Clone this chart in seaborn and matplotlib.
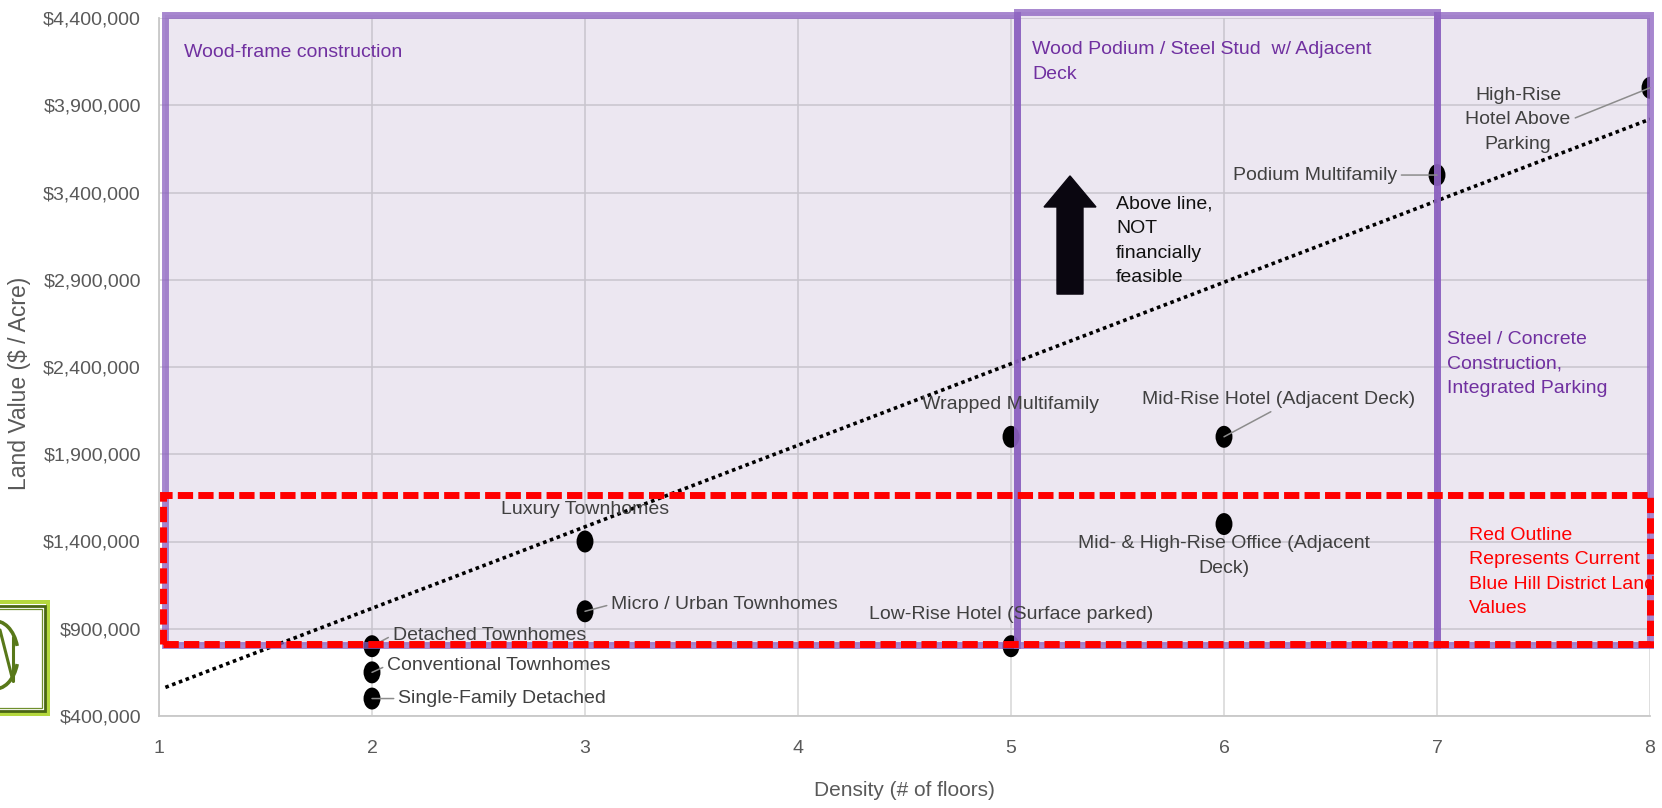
import matplotlib
matplotlib.use("Agg")
import matplotlib.pyplot as plt
from matplotlib.patches import Rectangle, Arc
from matplotlib.path import Path
from matplotlib.markers import MarkerStyle
from matplotlib.ticker import FuncFormatter, FixedLocator
import matplotlib.transforms as mtransforms
import pandas as pd
import seaborn as sns

# ---------------------------------------------------------------------------
# Data: development product types, density (floors) vs. land value ($/acre)
# ---------------------------------------------------------------------------
products = [
    "Single-Family Detached",
    "Conventional Townhomes",
    "Detached Townhomes",
    "Micro / Urban Townhomes",
    "Luxury Townhomes",
    "Wrapped Multifamily",
    "Low-Rise Hotel (Surface parked)",
    "Mid-Rise Hotel (Adjacent Deck)",
    "Mid- & High-Rise Office (Adjacent\nDeck)",
    "Podium Multifamily",
    "High-Rise\nHotel Above\nParking",
]
floors = [2, 2, 2, 3, 3, 5, 5, 6, 6, 7, 8]
land_value = [500000, 650000, 800000, 1000000, 1400000, 2000000,
              800000, 2000000, 1500000, 3500000, 4000000]

# feasibility threshold (dotted trend line)
trend_floors = [1.03, 8.0]
trend_value = [564000, 3820000]

x_ticks = [1, 2, 3, 4, 5, 6, 7, 8]
y_ticks = [400000, 900000, 1400000, 1900000, 2400000,
           2900000, 3400000, 3900000, 4400000]

# construction-type zones
zone_names = ["Wood-frame construction",
              "Wood Podium / Steel Stud  w/ Adjacent\nDeck",
              "Steel / Concrete\nConstruction,\nIntegrated Parking"]
zone_start = [1.03, 5.03, 7.0]
zone_end = [5.03, 7.0, 8.0]
zone_top = [4420000, 4435000, 4420000]
zone_bottom = 805000

# current district land value band
current_low = 810000
current_high = 1665000

# ---------------------------------------------------------------------------
sns.set_style("white")
plt.rcParams["font.family"] = ["Liberation Sans", "DejaVu Sans"]

W, H = 1662, 808
fig = plt.figure(figsize=(W / 100, H / 100), dpi=100)
ax = fig.add_axes([159 / W, 1 - 716 / H, (1650 - 159) / W, (716 - 18) / H])

TICK_GREY = "#595959"
LABEL_GREY = "#404040"
PURPLE_TXT = "#7030A0"
FS = 14
LS = 1.58

# grid + axes
ax.set_xlim(1, 8)
ax.set_ylim(400000, 4400000)
ax.xaxis.set_major_locator(FixedLocator(x_ticks))
ax.yaxis.set_major_locator(FixedLocator(y_ticks))
ax.yaxis.set_major_formatter(FuncFormatter(lambda v, p: f"${v:,.0f}"))
ax.grid(True, color="#d6d6d6", lw=1.1, zorder=0)
ax.set_axisbelow(True)
for side in ["top", "right"]:
    ax.spines[side].set_visible(False)
for side in ["left", "bottom"]:
    ax.spines[side].set_color("#c8c8c8")
    ax.spines[side].set_linewidth(1.3)
ax.tick_params(axis="both", length=0, labelsize=FS, labelcolor=TICK_GREY)
ax.tick_params(axis="x", pad=17)
ax.tick_params(axis="y", pad=13)
ax.set_xlabel("Density (# of floors)", fontsize=15, color=TICK_GREY, va="center")
ax.xaxis.set_label_coords(0.5, -(791 - 716) / 698)
ax.set_ylabel("Land Value ($ / Acre)", fontsize=16.5, color=TICK_GREY, va="center")
ax.yaxis.set_label_coords((20 - 159) / 1491, 1 - (383 - 18) / 698)

# construction zones (translucent fill + purple outline)
for x0, x1, top in zip(zone_start, zone_end, zone_top):
    ax.add_patch(Rectangle((x0, zone_bottom), x1 - x0, top - zone_bottom,
                           facecolor="#8064A2", alpha=0.15, edgecolor="none",
                           zorder=1, clip_on=False))
for x0, x1, top in zip(zone_start, zone_end, zone_top):
    ax.add_patch(Rectangle((x0, zone_bottom), x1 - x0, top - zone_bottom,
                           facecolor="none", edgecolor="#8a5fbf", alpha=0.75,
                           lw=5, zorder=4, clip_on=False))

# trend line
sns.lineplot(x=trend_floors, y=trend_value, ax=ax, color="black", lw=2.6,
             linestyle=(0, (1, 1)), zorder=3)

# data points (slightly tall ellipse markers)
ell = Path.unit_circle().transformed(mtransforms.Affine2D().scale(0.77, 1.0))
df = pd.DataFrame({"floors": floors, "value": land_value, "product": products})
sns.scatterplot(data=df, x="floors", y="value", ax=ax, marker=MarkerStyle(ell),
                s=250, color="black", edgecolor="none", zorder=3, legend=False)

# point labels: offset (points), alignment, leader line
label_style = [
    ((19, 0), "left", True, (0, 0.5)),
    ((11, 5), "left", True, (0, 0.5)),
    ((15, 8), "left", True, (0, 0.5)),
    ((19, 5), "left", True, (0, 0.5)),
    ((0, 23), "center", False, (0.5, 0.5)),
    ((0, 23), "center", False, (0.5, 0.5)),
    ((0, 23), "center", False, (0.5, 0.5)),
    ((39, 27), "center", True, (0.5, 0)),
    ((0, -23), "center", False, (0.5, 0.5)),
    ((-29, 0), "right", True, (1, 0.5)),
    ((-95, -23), "center", True, (1, 0.5)),
]
for (name, fx, v, (off, ha, leader, rel)) in zip(products, floors, land_value, label_style):
    props = None
    if leader:
        props = dict(arrowstyle="-", color="#8c8c8c", lw=1.1, shrinkA=1, shrinkB=0,
                     relpos=rel)
    ax.annotate(name, xy=(fx, v), xytext=off, textcoords="offset points",
                ha=ha, va="center", fontsize=FS, color=LABEL_GREY,
                multialignment="center", linespacing=LS,
                arrowprops=props, zorder=5)

# zone captions
ax.text(1.117, 4200000, zone_names[0], fontsize=FS, color=PURPLE_TXT,
        va="center", zorder=6)
ax.text(5.099, 4148000, zone_names[1], fontsize=FS, color=PURPLE_TXT,
        va="center", linespacing=LS, zorder=6)
ax.text(7.047, 2417000, zone_names[2], fontsize=FS, color=PURPLE_TXT,
        va="center", linespacing=LS, zorder=6)

# current land value band
ax.add_patch(Rectangle((1.02, current_low), 8.0 - 1.02, current_high - current_low,
                       facecolor="none", edgecolor="#ff0000", lw=5,
                       linestyle=(0, (2.2, 0.75)), zorder=7, clip_on=False))
ax.text(7.15, 1225000, "Red Outline\nRepresents Current\nBlue Hill District Land\nValues",
        fontsize=FS, color="#ff0000", va="center", linespacing=LS, zorder=6)

# feasibility arrow
ax.arrow(5.277, 2818000, 0, 677000, width=0.122, head_width=0.244,
         head_length=178000, length_includes_head=True, color="#0a0610", zorder=6)
ax.text(5.493, 3122000, "Above line,\nNOT\nfinancially\nfeasible", fontsize=FS,
        color="#111111", va="center", linespacing=LS, zorder=6)

# small framed emblem at the left edge
def px_rect(x0, y0, x1, y1, **kw):
    return Rectangle((x0 / W, 1 - y1 / H), (x1 - x0) / W, (y1 - y0) / H,
                     transform=fig.transFigure, **kw)

def px(x, y):
    return x / W, 1 - y / H

OLIVE = "#587819"
fig.patches.append(px_rect(-10, 600, 50, 716, facecolor="#b5d83e", edgecolor="none"))
fig.patches.append(px_rect(-10, 604, 46, 712, facecolor="white", edgecolor="none"))
fig.patches.append(px_rect(-10, 605.5, 44.5, 710.5, facecolor="none", edgecolor="#4a6614", lw=2.0))
fig.patches.append(px_rect(-10, 608.5, 41.5, 707.5, facecolor="none", edgecolor="#6f8f2c", lw=0.9))
for t1, t2 in [(40, 170), (-170, -40)]:
    fig.patches.append(Arc(px(-5, 655), 46 / W, 68 / H, theta1=t1, theta2=t2,
                           transform=fig.transFigure, color=OLIVE, lw=2.6))
fig.lines.append(plt.Line2D(*zip(px(0, 630), px(13, 681)), transform=fig.transFigure,
                            color=OLIVE, lw=2.2))
fig.lines.append(plt.Line2D(*zip(px(13, 681), px(13, 637)), transform=fig.transFigure,
                            color=OLIVE, lw=2.2))

fig.savefig("out.png", dpi=100)
